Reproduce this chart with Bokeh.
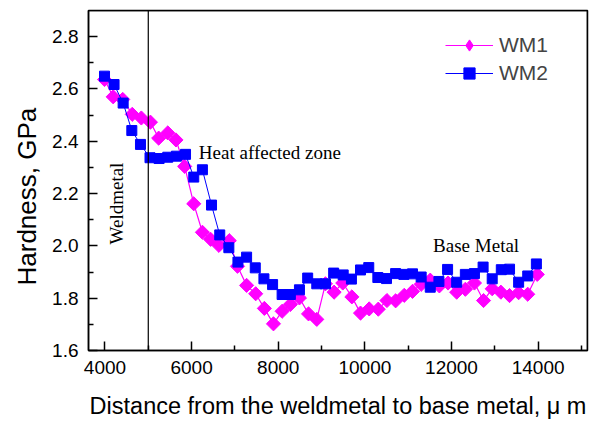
import numpy as np
from bokeh.plotting import figure
from bokeh.models import (Range1d, Span, Label, Legend, LegendItem, FixedTicker,
                          NumeralTickFormatter, Title)
from bokeh.embed import file_html
from bokeh.resources import INLINE

# ---- data ----
wm1_x = [3990, 4190, 4410, 4630, 4840, 5050, 5240, 5450, 5640, 5840,
         6050, 6250, 6440, 6630, 6870, 7060, 7270, 7480, 7680, 7890,
         8090, 8280, 8490, 8700, 8890, 9090, 9290, 9490, 9700, 9900,
         10100, 10310, 10510, 10710, 10910, 11100, 11300, 11510, 11720, 11920,
         12120, 12320, 12530, 12740, 12940, 13140, 13340, 13550, 13760, 13980]
wm1_y = [2.636, 2.570, 2.560, 2.503, 2.489, 2.473, 2.412, 2.432, 2.405, 2.304,
         2.161, 2.052, 2.025, 2.002, 2.020, 1.922, 1.849, 1.817, 1.761, 1.702,
         1.750, 1.776, 1.801, 1.740, 1.719, 1.855, 1.823, 1.858, 1.805, 1.743,
         1.759, 1.758, 1.791, 1.790, 1.811, 1.826, 1.853, 1.869, 1.847, 1.858,
         1.823, 1.834, 1.858, 1.791, 1.836, 1.823, 1.810, 1.821, 1.815, 1.891]

wm2_x = [3990, 4210, 4420, 4620, 4820, 5040, 5250, 5450, 5650, 5860,
         6050, 6250, 6460, 6650, 6860, 7070, 7270, 7470, 7670, 7870,
         8090, 8280, 8490, 8680, 8890, 9090, 9280, 9500, 9690, 9900,
         10090, 10300, 10500, 10710, 10900, 11100, 11300, 11510, 11710, 11910,
         12120, 12320, 12530, 12730, 12940, 13150, 13340, 13550, 13760, 13960]
wm2_y = [2.649, 2.617, 2.546, 2.441, 2.388, 2.337, 2.334, 2.339, 2.343, 2.350,
         2.263, 2.291, 2.156, 2.042, 1.993, 1.938, 1.957, 1.916, 1.874, 1.852,
         1.814, 1.814, 1.832, 1.877, 1.855, 1.855, 1.896, 1.889, 1.873, 1.908,
         1.917, 1.879, 1.875, 1.894, 1.891, 1.893, 1.881, 1.842, 1.864, 1.910,
         1.861, 1.891, 1.894, 1.919, 1.874, 1.909, 1.911, 1.861, 1.885, 1.931]

x_ticks = [4000, 6000, 8000, 10000, 12000, 14000]
x_minor = [5000, 7000, 9000, 11000, 13000, 15000]
y_ticks = [1.6, 1.8, 2.0, 2.2, 2.4, 2.6, 2.8]
y_minor = [1.7, 1.9, 2.1, 2.3, 2.5, 2.7]

X_MIN, X_MAX = 3620, 15140
Y_MIN, Y_MAX = 1.6, 2.9

SANS = "Liberation Sans"
SERIF = "Liberation Serif"

p = figure(width=590, height=422,
           x_range=Range1d(X_MIN, X_MAX), y_range=Range1d(Y_MIN, Y_MAX),
           output_backend="svg", toolbar_location=None,
           min_border_left=88, min_border_right=3,
           min_border_top=10, min_border_bottom=72)
p.grid.visible = False
p.outline_line_color = "black"
p.outline_line_width = 1.5
p.background_fill_color = "white"
p.border_fill_color = "white"

for ax in (p.xaxis[0], p.yaxis[0]):
    ax.axis_line_width = 1.5
    ax.major_tick_in = 9
    ax.major_tick_out = 0
    ax.minor_tick_in = 5
    ax.minor_tick_out = 0
    ax.major_tick_line_width = 1.5
    ax.minor_tick_line_width = 1.5
    ax.major_label_text_font = SANS
    ax.major_label_text_font_size = "19px"
    ax.major_label_text_color = "black"
    ax.major_label_standoff = 10

p.xaxis.ticker = FixedTicker(ticks=x_ticks, minor_ticks=x_minor)
p.yaxis.ticker = FixedTicker(ticks=y_ticks, minor_ticks=y_minor)
p.xaxis.formatter = NumeralTickFormatter(format="0")
p.yaxis.formatter = NumeralTickFormatter(format="0.0")

p.xaxis.axis_label = "Distance from the weldmetal to base metal, \u03bc m"
p.xaxis.axis_label_text_font = SANS
p.xaxis.axis_label_text_font_size = "23.5px"
p.xaxis.axis_label_text_font_style = "normal"
p.xaxis.axis_label_text_color = "black"
p.xaxis.axis_label_standoff = 16

# y title on the left side, starting 65 px above the frame bottom like the reference
p.add_layout(Title(text="Hardness, GPa", align="left", offset=65,
                   text_font=SANS, text_font_size="26px",
                   text_font_style="normal", text_color="black",
                   standoff=16), "left")

# frame lines (top / right) and weld metal boundary
p.add_layout(Span(location=Y_MAX, dimension="width", line_color="black", line_width=1.5))
p.add_layout(Span(location=X_MAX, dimension="height", line_color="black", line_width=1.5))
p.add_layout(Span(location=5000, dimension="height", line_color="black", line_width=1.2))

l1 = p.line(wm1_x, wm1_y, line_color="#FF00FF", line_width=1.2)
s1 = p.scatter(wm1_x, wm1_y, marker="square", angle=np.pi / 4, size=10,
               fill_color="#FF00FF", line_color="#FF00FF")
l2 = p.line(wm2_x, wm2_y, line_color="#0000FF", line_width=1)
s2 = p.scatter(wm2_x, wm2_y, marker="square", size=10,
               fill_color="#0000FF", line_color="#0000FF")
# legend-only glyph for the diamond symbol (no visible data point)
d1 = p.scatter([np.nan], [np.nan], marker="diamond", size=16,
               fill_color="#FF00FF", line_color="#FF00FF")

legend = Legend(items=[LegendItem(label="WM1", renderers=[l1, d1]),
                       LegendItem(label="WM2", renderers=[l2, s2])],
                location=(357, 263), glyph_width=48, glyph_height=28,
                label_height=26, spacing=0, padding=0, margin=0,
                label_standoff=6, border_line_color=None,
                background_fill_alpha=0,
                label_text_font=SANS, label_text_font_size="21px")
p.add_layout(legend)

p.add_layout(Label(x=6168, y=2.357, text="Heat affected zone",
                   text_font=SERIF, text_font_size="19px",
                   text_align="left", text_baseline="middle", text_color="black"))
p.add_layout(Label(x=11576, y=2.0, text="Base Metal",
                   text_font=SERIF, text_font_size="19px",
                   text_align="left", text_baseline="middle", text_color="black"))
p.add_layout(Label(x=4270, y=2.162, text="Weldmetal", angle=np.pi / 2,
                   text_font=SERIF, text_font_size="19px",
                   text_align="center", text_baseline="middle", text_color="black"))

open("out.html", "w").write(file_html(p, INLINE))
